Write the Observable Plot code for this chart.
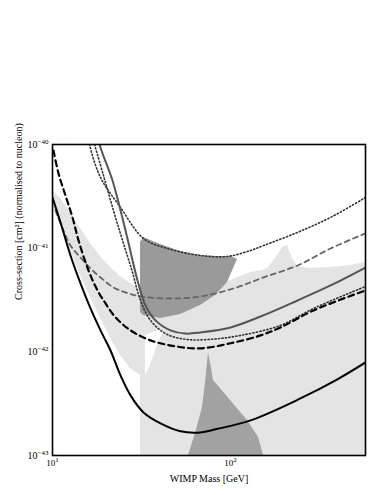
<!DOCTYPE html>
<html><head><meta charset="utf-8">
<script src="https://cdn.jsdelivr.net/npm/d3@7"></script>
<script src="https://cdn.jsdelivr.net/npm/@observablehq/plot@0.6"></script>
<style>body{margin:0;background:#fff} svg{display:block}</style>
</head><body><div id="chart"></div>
<script>
// Tick values and labels
const xTicks = [10, 100];
const xTickExp = ["1", "2"];
const yTicks = [1e-43, 1e-42, 1e-41, 1e-40];
const yTickExp = ["−43", "−42", "−41", "−40"];
const xLabel = "WIMP Mass [GeV]";
const yLabel = "Cross-section [cm²] (normalised to nucleon)";

// Black solid limit
const blackSolidMass  = [10, 11.09, 12.62, 14.37, 16.35, 18.61, 21.18, 24.1, 27.43, 32.45, 40.44, 52.4, 67.8, 82.4, 129.5, 247, 389, 573];
const blackSolidSigma = [3.08e-41, 1.77e-41, 8.5e-42, 4.57e-42, 2.62e-42, 1.61e-42, 1.03e-42, 5.92e-43, 3.8e-43, 2.6e-43, 2.04e-43, 1.71e-43, 1.67e-43, 1.79e-43, 2.18e-43, 3.55e-43, 5.3e-43, 7.9e-43];

// Black dashed limit
const blackDashMass  = [10.13, 10.81, 11.83, 12.95, 14.0, 15.93, 17.9, 19.86, 22.59, 27.43, 35.53, 49.1, 67.8, 100, 147.4, 191, 292.7, 573];
const blackDashSigma = [8.75e-41, 5.25e-41, 3.22e-41, 1.98e-41, 1.19e-41, 6.09e-42, 3.91e-42, 2.93e-42, 2.15e-42, 1.61e-42, 1.29e-42, 1.13e-42, 1.08e-42, 1.21e-42, 1.44e-42, 1.72e-42, 2.51e-42, 3.91e-42];

// Gray dashed limit
const grayDashMass  = [10.39, 11.53, 12.62, 14.37, 16.35, 18.61, 22.0, 25.71, 31.22, 46.0, 67.8, 104, 153.2, 238, 364.6, 573];
const grayDashSigma = [2.31e-41, 1.48e-41, 1.06e-41, 8.13e-42, 6.37e-42, 5.22e-42, 4.18e-42, 3.74e-42, 3.42e-42, 3.27e-42, 3.42e-42, 4.09e-42, 5.22e-42, 6.81e-42, 9.93e-42, 1.39e-41];

// Gray solid limit
const graySolidMass  = [18.13, 18.61, 21.73, 25.71, 30.03, 33.3, 37.9, 46.0, 55.9, 67.8, 100, 147.4, 238, 364.6, 573];
const graySolidSigma = [1.17e-40, 9.36e-41, 4.5e-41, 1.48e-41, 4.88e-42, 2.8e-42, 2.01e-42, 1.61e-42, 1.5e-42, 1.54e-42, 1.72e-42, 2.19e-42, 3.13e-42, 4.37e-42, 6.51e-42];

// Upper dotted limit
const dotUpMass  = [15.73, 16.14, 18.61, 24.1, 32.45, 44.27, 67.8, 96.2, 129.5, 153.2, 238, 364.6, 573];
const dotUpSigma = [1.37e-40, 1.0e-40, 4.81e-41, 2.47e-41, 1.24e-41, 9.93e-42, 8.5e-42, 8.32e-42, 9.5e-42, 1.06e-41, 1.42e-41, 1.98e-41, 3.08e-41];

// Lower dotted limit
const dotLowMass  = [17.22, 19.34, 22.0, 24.74, 28.15, 31.22, 35.53, 43.13, 55.9, 77.2, 113.8, 191, 292.7, 573];
const dotLowSigma = [1.0e-40, 5.02e-41, 2.31e-41, 1.19e-41, 5.83e-42, 3.13e-42, 2.01e-42, 1.5e-42, 1.32e-42, 1.32e-42, 1.44e-42, 1.8e-42, 2.62e-42, 4.27e-42];

// Light gray allowed region
const lightMass = [10, 11.09, 12.62, 14.37, 16.35, 18.61, 21.18, 24.1, 27.43, 31.22, 31.22, 35.53, 52.4, 77.2, 100, 129.5, 151.3, 161.4, 179, 198.6, 209, 223, 238, 281.5, 364.6, 472, 573];
const lightLo   = [2.58e-41, 1.66e-41, 9.5e-42, 5.45e-42, 3.35e-42, 2.1e-42, 1.35e-42, 9.23e-43, 6.92e-43, 5.92e-43, 1e-43, 1e-43, 1e-43, 1e-43, 1e-43, 1e-43, 1e-43, 1e-43, 1e-43, 1e-43, 1e-43, 1e-43, 1e-43, 1e-43, 1e-43, 1e-43, 1e-43];
const lightHi   = [3.6e-41, 3.02e-41, 2.21e-41, 1.55e-41, 1.11e-41, 8.32e-42, 6.51e-42, 5.33e-42, 4.57e-42, 3.91e-42, 3.91e-42, 3.74e-42, 3.27e-42, 3.74e-42, 4.88e-42, 5.83e-42, 6.09e-42, 6.37e-42, 7.96e-42, 1.04e-41, 1.06e-41, 7.96e-42, 6.66e-42, 6.37e-42, 6.51e-42, 6.81e-42, 7.28e-42];

// White notch inside light region
const notchMass = [33.3, 35.53, 37.9, 40.44, 42.0];
const notchLo   = [5.92e-43, 7.39e-43, 1.03e-42, 1.35e-42, 1.54e-42];
const notchHi   = [1.44e-42, 1.5e-42, 1.57e-42, 1.61e-42, 1.57e-42];

// Dark gray blob
const blobMass = [31.22, 32.45, 40.44, 52.4, 67.8, 82.4, 96.2, 104, 109.5];
const blobLo   = [2.4e-42, 2.24e-42, 2.1e-42, 2.29e-42, 2.8e-42, 3.5e-42, 4.67e-42, 6.37e-42, 7.78e-42];
const blobHi   = [1.134e-41, 1.27e-41, 1.085e-41, 9.29e-42, 8.5e-42, 8.32e-42, 8.32e-42, 8.13e-42, 7.78e-42];

// Dark gray spike at bottom
const spikeMass = [58.1, 63.6, 69.6, 72.4, 75.2, 78.2, 80.2, 100, 124.6, 143.7, 153.2];
const spikeHi   = [1e-43, 1.63e-43, 2.91e-43, 5.07e-43, 9.87e-43, 6.92e-43, 5.3e-43, 3.4e-43, 2.18e-43, 1.49e-43, 1e-43];

const zip = (m, s) => m.map((v, i) => ({m: v, s: s[i]}));
const zip3 = (m, lo, hi) => m.map((v, i) => ({m: v, lo: lo[i], hi: hi[i]}));

const lineOpts = {x: "m", y: "s", curve: "catmull-rom", clip: true};

const chart = Plot.plot({
  width: 383, height: 495,
  marginTop: 144, marginLeft: 52, marginRight: 18, marginBottom: 40,
  style: {fontFamily: "'Liberation Serif', 'DejaVu Serif', serif", fontSize: "10px", background: "white", color: "black"},
  x: {type: "log", domain: [10, 573]},
  y: {type: "log", domain: [1e-43, 1e-40]},
  marks: [
    Plot.areaY(zip3(lightMass, lightLo, lightHi), {x: "m", y1: "lo", y2: "hi", fill: "#e4e4e4"}),
    Plot.areaY(zip3(notchMass, notchLo, notchHi), {x: "m", y1: "lo", y2: "hi", fill: "white"}),
    Plot.areaY(zip3(blobMass, blobLo, blobHi), {x: "m", y1: "lo", y2: "hi", fill: "#9a9a9a"}),
    Plot.areaY(zip(spikeMass, spikeHi), {x: "m", y1: 1e-43, y2: "s", fill: "#a2a2a2"}),
    Plot.line(zip(grayDashMass, grayDashSigma), {...lineOpts, stroke: "#666", strokeWidth: 1.8, strokeDasharray: "5,4"}),
    Plot.line(zip(dotUpMass, dotUpSigma), {...lineOpts, stroke: "#333", strokeWidth: 1.6, strokeDasharray: "1.2,2.3"}),
    Plot.line(zip(dotLowMass, dotLowSigma), {...lineOpts, stroke: "#333", strokeWidth: 1.6, strokeDasharray: "1.2,2.3"}),
    Plot.line(zip(graySolidMass, graySolidSigma), {...lineOpts, stroke: "#555", strokeWidth: 2}),
    Plot.line(zip(blackDashMass, blackDashSigma), {...lineOpts, stroke: "black", strokeWidth: 2.2, strokeDasharray: "6,4"}),
    Plot.line(zip(blackSolidMass, blackSolidSigma), {...lineOpts, stroke: "black", strokeWidth: 2}),
    Plot.frame({stroke: "black", strokeWidth: 1.6}),
    Plot.axisX({ticks: xTicks, tickSize: 0, tickPadding: 4, tickFormat: (d) => xTickExp[xTicks.indexOf(d)], label: null, fontSize: 9}),
    Plot.axisY({ticks: yTicks, tickSize: 0, tickPadding: 4, tickFormat: (d) => yTickExp[yTicks.indexOf(d)], label: null}),
    Plot.text([xLabel], {frameAnchor: "bottom", dy: 26, fontSize: 10}),
    Plot.text([yLabel], {frameAnchor: "left", dx: -34, rotate: -90, fontSize: 10})
  ]
});

// Render tick labels as 10 with superscript exponent
d3.select(chart).selectAll('g[aria-label="x-axis tick label"] text, g[aria-label="y-axis tick label"] text').each(function() {
  const t = d3.select(this);
  const exp = t.text();
  t.text(null);
  t.append("tspan").text("10");
  t.append("tspan").attr("dy", "-0.55em").attr("font-size", "7px").text(exp);
});

document.getElementById("chart").append(chart);
</script>
</body></html>
